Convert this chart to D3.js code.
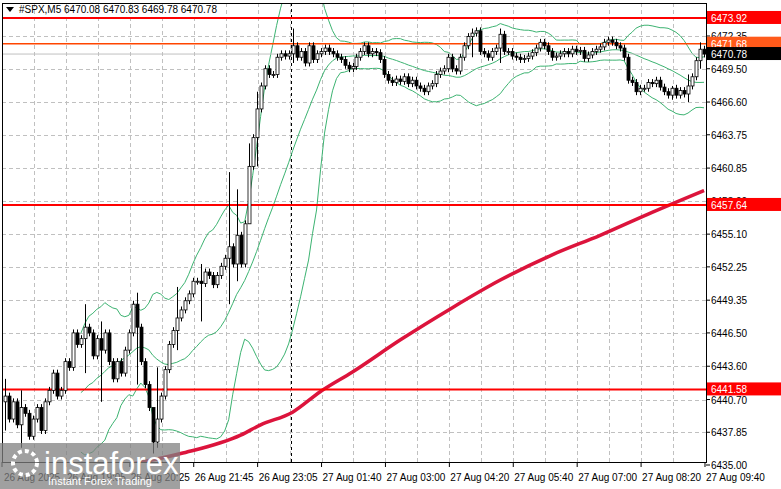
<!DOCTYPE html>
<html><head><meta charset="utf-8">
<script src="https://cdn.jsdelivr.net/npm/d3@7"></script>
<style>
body{margin:0;background:#fff;}
text{font-family:"Liberation Sans",Arial,sans-serif;font-size:10px;}
</style></head>
<body><svg id="chart" width="781" height="489"></svg>
<script>
// closes, one per M5 bar (open = previous close)
var closes = [
 6441,6439,6440.5,6438.5,6440,6439.5,6437.5,6439,
 6440,6438,6440.5,6441.5,6443,6441,6441.5,6444,
 6443.5,6446.5,6445.5,6446,6447,6446.5,6444.5,6446,
 6445,6446.5,6444,6442.5,6444,6443,6445,6446.5,
 6449,6447,6444,6442,6440,6437,6439,6441,
 6443.3,6445.5,6446.7,6447.8,6448.5,6449.3,6449.9,6451,
 6451,6450.8,6451.8,6451.5,6450.7,6451.5,6452.3,6453,
 6454,6452.5,6455,6452.5,6456,6461,6463.5,6466,
 6468,6469.5,6469,6469,6470.5,6470.8,6470.6,6470.8,
 6471.5,6470.5,6471,6470,6471.5,6470.3,6470.8,6471,
 6471.3,6471,6470.8,6470.5,6470.3,6469.8,6469.5,6469.7,
 6470.5,6471,6471.5,6470.8,6471,6470.9,6470.3,6469,
 6468.5,6468.3,6468.6,6468.4,6468.8,6468.2,6468.5,6468,
 6467.8,6467.5,6468,6468.2,6469,6469.3,6469.5,6470.5,
 6469.5,6469.3,6470.5,6471.5,6472.3,6472.6,6472.8,6471,
 6470.8,6470.5,6471,6471.3,6472.5,6471,6471,6470.6,
 6470.5,6470.3,6470.4,6470.6,6470.9,6471.3,6471.8,6471.5,
 6471,6470.5,6470.6,6470.8,6471,6470.8,6471.2,6471,
 6471.1,6470.4,6470.7,6471,6471.2,6471.4,6471.8,6472,
 6471.8,6471.5,6471.3,6470.5,6468.5,6468.3,6467.5,6467.8,
 6467.8,6468.3,6468.2,6468.5,6467.9,6467.5,6467.2,6467.8,
 6467.2,6467.6,6467.3,6468,6468.8,6470.2,6471.2,6470.78
];
var firstOpen = 6440.5;
// notable wicks: bar index -> [high, low]
var wickIdx = [0, 4, 20, 24, 33, 37, 38, 43, 49, 56, 58, 61, 63, 72, 117, 124, 167, 171, 174];
var wickHi  = [6442.5, 6441.5, 6449, 6447.5, 6450, 6439, 6443.5, 6450.5, 6452.5, 6460.5, 6459, 6463, 6467.5, 6473, 6473, 6473, 6468, 6469, 6471.8];
var wickLo  = [6438, 6436.5, 6443, 6440.5, 6442, 6436, 6436.5, 6445, 6447.5, 6449, 6451, 6456.5, 6461, 6470, 6470.5, 6470, 6466.8, 6466.6, 6469.5];
// long moving average (red), read at a few bars
var maIdx = [29, 44, 59, 64, 72, 79, 87, 99, 112, 124, 137, 149, 162, 175];
var maVal = [6434.9, 6436.0, 6437.6, 6438.5, 6439.6, 6441.4, 6443.1, 6445.9, 6448.7, 6451.1, 6453.3, 6455.0, 6457.0, 6458.9];
var levels = [6473.92, 6457.64, 6441.58];
var pivot = 6471.68, last = 6470.78;
var yTicks = [6472.35,6469.50,6466.60,6463.75,6460.85,6458.00,6455.10,6452.25,6449.35,6446.50,6443.60,6440.70,6437.85,6435.00];
var xLabelIdx = [0, 16, 32, 48, 64, 80, 96, 112, 128, 144, 160, 176];
var xLabels = ["26 Aug 2025","26 Aug 19:05","26 Aug 20:25","26 Aug 21:45","26 Aug 23:05","27 Aug 01:40","27 Aug 03:00","27 Aug 04:20","27 Aug 05:40","27 Aug 07:00","27 Aug 08:20","27 Aug 09:40"];

var svg = d3.select("#chart");
var L = 2, R = 706, T = 3, B = 462;
var x = d3.scaleLinear().domain([0, 175]).range([5, 704]);
var y = d3.scaleLinear().domain([6472.35, 6435.00]).range([36, 465]);

var bars = closes.map(function(c, i){
  var o = i ? closes[i-1] : firstOpen;
  var k = wickIdx.indexOf(i);
  var h = k >= 0 ? Math.max(wickHi[k], o, c) : Math.max(o, c) + 0.3;
  var l = k >= 0 ? Math.min(wickLo[k], o, c) : Math.min(o, c) - 0.3;
  return {i:i, o:o, c:c, h:h, l:l};
});

var g = svg.append("g");
g.append("defs").append("clipPath").attr("id","clip").append("rect")
  .attr("x",L).attr("y",T).attr("width",R-L).attr("height",B-T);
var plot = g.append("g").attr("clip-path","url(#clip)");

// grid
plot.selectAll(".hg").data(yTicks).enter().append("line")
  .attr("x1",L).attr("x2",R).attr("y1",function(d){return Math.round(y(d))+0.5;}).attr("y2",function(d){return Math.round(y(d))+0.5;})
  .attr("stroke","#c0c0c0").attr("stroke-dasharray","4,3");
var vg = d3.range(8, 176, 8);
plot.selectAll(".vg").data(vg).enter().append("line")
  .attr("x1",function(d){return Math.round(x(d)-3)+0.5;}).attr("x2",function(d){return Math.round(x(d)-3)+0.5;})
  .attr("y1",T).attr("y2",B).attr("stroke","#c0c0c0").attr("stroke-dasharray","4,3");
plot.append("line").attr("x1",291.5).attr("x2",291.5).attr("y1",T).attr("y2",B)
  .attr("stroke","#000").attr("stroke-dasharray","3,3");

// bollinger bands (20, 2)
var n = 20, up = [], mid = [], lo = [];
closes.forEach(function(c, i){
  if (i < n-1) return;
  var s = closes.slice(i-n+1, i+1), m = d3.mean(s), sd = d3.deviation(s) * Math.sqrt((n-1)/n);
  up.push([i, m+2*sd]); mid.push([i, m]); lo.push([i, m-2*sd]);
});
var line = d3.line().x(function(d){return x(d[0]);}).y(function(d){return y(d[1]);});
[up, mid, lo].forEach(function(b){
  plot.append("path").attr("d", line(b)).attr("fill","none").attr("stroke","#3cb371").attr("stroke-width",1);
});

// MA
var smooth = d3.line().curve(d3.curveMonotoneX).x(function(d){return x(d[0]);}).y(function(d){return y(d[1]);});
plot.append("path").attr("d", smooth(maIdx.map(function(d,k){return [d, maVal[k]];})))
  .attr("fill","none").attr("stroke","#dc143c").attr("stroke-width",3.5);

// horizontal levels
plot.append("line").attr("x1",L).attr("x2",R).attr("y1",y(last)).attr("y2",y(last)).attr("stroke","#c0c0c0");
plot.append("line").attr("x1",L).attr("x2",R).attr("y1",y(pivot)).attr("y2",y(pivot)).attr("stroke","#ff4500").attr("stroke-width",1.5);
plot.selectAll(".lv").data(levels).enter().append("line")
  .attr("x1",L).attr("x2",R).attr("y1",function(d){return y(d);}).attr("y2",function(d){return y(d);})
  .attr("stroke","#ff0000").attr("stroke-width",2);

// candles
var cg = plot.selectAll(".c").data(bars).enter().append("g");
cg.append("line").attr("x1",function(d){return Math.round(x(d.i))+0.5;}).attr("x2",function(d){return Math.round(x(d.i))+0.5;})
  .attr("y1",function(d){return y(d.h);}).attr("y2",function(d){return y(d.l);}).attr("stroke","#000");
cg.append("rect").attr("x",function(d){return Math.round(x(d.i))-1;}).attr("width",3)
  .attr("y",function(d){return y(Math.max(d.o,d.c));})
  .attr("height",function(d){return Math.max(1, Math.abs(y(d.o)-y(d.c)));})
  .attr("fill",function(d){return d.c >= d.o ? "#fff" : "#000";}).attr("stroke","#000").attr("stroke-width",0.8);

// frame
g.append("rect").attr("x",L+0.5).attr("y",T+0.5).attr("width",R-L).attr("height",B-T)
  .attr("fill","none").attr("stroke","#000");

// right axis
svg.selectAll(".yt").data(yTicks).enter().append("text")
  .attr("x",711).attr("y",function(d){return y(d)+4;}).text(function(d){return d.toFixed(2);});
svg.selectAll(".ytk").data(yTicks).enter().append("line")
  .attr("x1",R).attr("x2",R+4).attr("y1",function(d){return y(d);}).attr("y2",function(d){return y(d);}).attr("stroke","#000");
function tag(v, bg){
  svg.append("rect").attr("x",R+1).attr("y",y(v)-7).attr("width",74).attr("height",13).attr("fill",bg);
  svg.append("text").attr("x",711).attr("y",y(v)+4).attr("fill","#fff").text(v.toFixed(2));
}
levels.forEach(function(v){ tag(v, "#ff0000"); });
tag(pivot, "#ff5a1a");
tag(last, "#000");

// bottom axis
svg.selectAll(".xt").data(xLabelIdx).enter().append("text")
  .attr("x",function(d,k){return k ? x(d)-2 : 4;}).attr("y",481).text(function(d,k){return xLabels[k];});
svg.selectAll(".xtk").data(xLabelIdx).enter().append("line")
  .attr("x1",function(d){return x(d)-3;}).attr("x2",function(d){return x(d)-3;}).attr("y1",B).attr("y2",B+5).attr("stroke","#000");

// title
svg.append("path").attr("d","M6,7 L14,7 L10,12 Z").attr("fill","#000");
svg.append("text").attr("x",19).attr("y",13).text("#SPX,M5  6470.08 6470.83 6469.78 6470.78");

// watermark
svg.append("rect").attr("x",0).attr("y",443).attr("width",180).attr("height",46).attr("fill","#808080").attr("opacity",0.75);
svg.append("circle").attr("cx",25).attr("cy",463).attr("r",12).attr("fill","none").attr("stroke","#fff").attr("stroke-width",4).attr("stroke-dasharray","4,3");
svg.append("text").attr("x",44).attr("y",474).attr("fill","#fff").style("font-size","31px").style("font-family","Arial,'Liberation Sans'").text("instaforex");
svg.append("text").attr("x",48).attr("y",485).attr("fill","#fff").style("font-size","11px").text("Instant Forex Trading");
</script></body></html>
